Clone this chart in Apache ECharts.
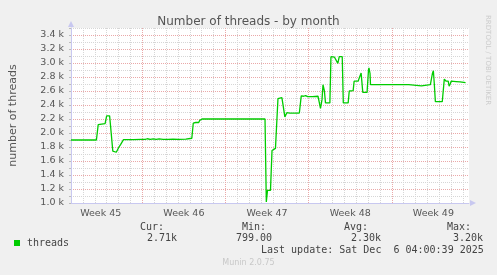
<!DOCTYPE html>
<html><head><meta charset="utf-8">
<script src="https://cdn.jsdelivr.net/npm/echarts@6/dist/echarts.min.js"></script>
<style>html,body{margin:0;padding:0;background:#f0f0f0}#c{width:497px;height:275px}</style>
</head><body><div id="c"></div>
<script>
// time in days relative to start of week 46 (red grid line)
const days = [-6.0,-3.86,-3.71,-3.58,-3.13,-3.0,-2.75,-2.67,-2.48,-2.19,-2.08,-1.96,-1.83,-1.71,-1.58,-0.75,-0.08,0.08,0.25,0.42,0.67,0.92,1.17,1.42,1.75,2.17,2.58,3.08,3.67,3.75,4.17,4.29,4.5,4.75,4.83,5.04,7.58,7.67,7.75,8.42,8.5,8.58,10.33,10.44,10.54,10.79,10.92,11.08,11.21,11.42,11.75,11.83,12.0,12.17,12.33,12.42,13.22,13.38,13.58,13.75,13.92,14.08,14.33,14.79,14.92,15.0,15.13,15.21,15.33,15.42,15.79,15.88,16.17,16.33,16.46,16.58,16.83,16.92,17.33,17.42,17.75,17.83,18.17,18.25,18.42,18.5,18.56,18.92,19.04,19.08,19.17,19.21,22.42,22.5,23.5,23.58,24.25,24.42,24.5,24.58,24.67,25.25,25.42,25.58,25.75,25.83,25.92,26.0,26.42,26.54,26.75,27.21];
const threads = [1900,1900,2120,2130,2135,2245,2245,2100,1740,1725,1730,1800,1835,1840,1905,1905,1910,1918,1908,1918,1910,1916,1908,1915,1910,1910,1913,1910,1912,1925,1925,2140,2150,2150,2180,2200,2200,2190,2200,2200,2192,2200,2200,1015,1180,1180,1750,1775,1780,2490,2505,2420,2230,2290,2300,2285,2285,2530,2525,2535,2520,2530,2520,2525,2420,2350,2480,2690,2600,2430,2430,3090,3085,3090,2995,3090,3090,2430,2430,2600,2605,2740,2740,2780,2857,2830,2580,2580,2900,2930,2850,2690,2690,2672,2672,2690,2690,2850,2890,2700,2447,2447,2770,2740,2740,2670,2700,2740,2735,2720,2730,2720];
const weekLabels = ['Week 45','Week 46','Week 47','Week 48','Week 49'];
const weekCenters = [-3.5, 3.5, 10.5, 17.5, 24.5];
const seriesName = 'threads';
const statHeads = ['Cur:','Min:','Avg:','Max:'];
const statValues = ['2.71k','799.00','2.30k','3.20k'];
const lastUpdate = 'Last update: Sat Dec  6 04:00:39 2025';

const chart = echarts.init(document.getElementById('c'), null, {renderer:'canvas'});
const G = '#d6d6d6', R = '#eaa8a8';
const mono = 'DejaVu Sans Mono', sans = 'DejaVu Sans';
const headX = [140, 242, 344, 447];
const valX = [147, 236, 351, 453];
const graphics = [];
statHeads.forEach((t,i)=>graphics.push({type:'text', left:headX[i], top:222, style:{text:t, font:'10px '+mono, fill:'#444'}}));
statValues.forEach((t,i)=>graphics.push({type:'text', left:valX[i], top:233, style:{text:t, font:'10px '+mono, fill:'#444'}}));
graphics.push({type:'text', left:261, top:245, style:{text:lastUpdate, font:'10px '+mono, fill:'#444'}});
graphics.push({type:'text', left:'center', top:259, style:{text:'Munin 2.0.75', font:'8px '+sans, fill:'#c8c8c8'}});
graphics.push({type:'text', x:491, y:15, rotation:-Math.PI/2, style:{text:'RRDTOOL / TOBI OETIKER', font:'7px '+sans, fill:'#cccccc'}});

chart.setOption({
  backgroundColor:'#f0f0f0',
  animation:false,
  title:{text:'Number of threads - by month', left:'center', top:11,
    textStyle:{fontFamily:sans, fontSize:12, fontWeight:'normal', color:'#555'}},
  legend:{data:[seriesName], left:9, top:233, icon:'rect', itemWidth:6, itemHeight:6, itemGap:5,
    textStyle:{fontFamily:mono, fontSize:10, color:'#444', padding:[0,0,0,2]}},
  grid:{left:67, right:28, top:28, height:175, show:true, backgroundColor:'#ffffff', borderWidth:0, containLabel:false},
  xAxis:[{
    type:'value', min:-6, max:27.5, interval:1, position:'bottom',
    axisLine:{show:true, onZero:false, lineStyle:{color:'#c8c8f0', width:1}, symbol:['none','triangle'], symbolSize:[6,6], symbolOffset:[0,4]},
    axisTick:{show:false}, axisLabel:{show:false},
    splitLine:{show:true, showMaxLine:false, lineStyle:{color:[G,G,G,G,G,G,R], type:[1,1], width:1}}
  },{
    type:'value', min:-6, max:27.5, interval:0.5, position:'bottom',
    axisLine:{show:false}, axisTick:{show:false}, splitLine:{show:false},
    axisLabel:{show:true, margin:6, fontFamily:sans, fontSize:9.5, color:'#555',
      formatter:function(v){const i=weekCenters.indexOf(v); return i>=0?weekLabels[i]:'';}}
  }],
  yAxis:{
    type:'value', min:1000, max:3500, interval:100,
    name:'number of threads', nameLocation:'middle', nameGap:52, nameRotate:90,
    nameTextStyle:{fontFamily:sans, fontSize:11, color:'#555'},
    axisLine:{show:true, onZero:false, lineStyle:{color:'#c8c8f0', width:1}, symbol:['none','triangle'], symbolSize:[6,6], symbolOffset:[0,4]},
    axisTick:{show:true, length:2, lineStyle:{color:'#bbbbbb'}},
    axisLabel:{margin:7, fontFamily:sans, fontSize:9.5, color:'#555',
      formatter:function(v){return (v%200===0 && v<3500)?(v/1000).toFixed(1)+' k':'';}},
    splitLine:{show:true, lineStyle:{color:[R,G], type:[1,1], width:1}}
  },
  series:[{
    name:seriesName, type:'line', xAxisIndex:0, showSymbol:false, symbol:'none',
    data: days.map((d,i)=>[d, threads[i]]),
    lineStyle:{color:'#00cc00', width:1.3}, itemStyle:{color:'#00cc00'}, z:5
  }],
  graphic: graphics
});
</script></body></html>
